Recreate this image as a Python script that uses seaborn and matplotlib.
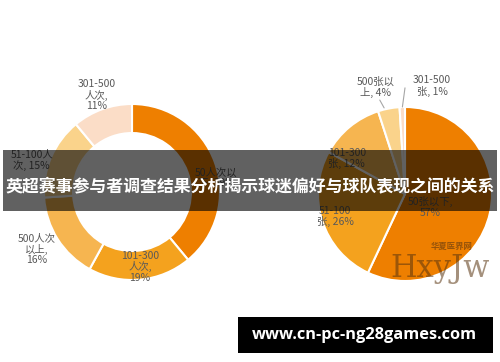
import matplotlib
matplotlib.use("Agg")
import matplotlib.pyplot as plt
import seaborn as sns
from matplotlib.patches import Rectangle

sns.set_style("white")
plt.rcParams['font.family'] = ['Noto Sans CJK SC', 'DejaVu Sans']

# ---- data ----
left_labels = ["50人次以\n下, 39%", "101-300\n人次,\n19%", "500人次\n以上,\n16%", "51-100人\n次, 15%", "301-500\n人次,\n11%"]
left_values = [39, 19, 16, 15, 11]
right_labels = ["50张以下,\n57%", "51-100\n张, 26%", "101-300\n张, 12%", "500张以\n上, 4%", "301-500\n张, 1%"]
right_values = [57, 26, 12, 4, 1]
banner_title = "英超赛事参与者调查结果分析揭示球迷偏好与球队表现之间的关系"
site_text = "www.cn-pc-ng28games.com"

palette = sns.color_palette(["#EE7F00", "#F4A21E", "#F6B550", "#FAD38B", "#FBDDC7"])

W, H = 500, 362
fig = plt.figure(figsize=(W / 100, H / 100), dpi=100)
fig.patch.set_facecolor("white")

SPAN = 1.6

def make_ax(cx, cy, r):
    half = r * SPAN
    ax = fig.add_axes([(cx - half) / W, (H - cy - half) / H, 2 * half / W, 2 * half / H])
    ax.set_xlim(-SPAN, SPAN)
    ax.set_ylim(-SPAN, SPAN)
    ax.axis("off")
    return ax

label_color = "#595959"
fs = 7.5

# left donut
axL = make_ax(132, 192, 88)
axL.pie(left_values, colors=palette, startangle=90, counterclock=False, radius=1,
        wedgeprops=dict(width=0.33, edgecolor="white", linewidth=1.5))
axL.set_xlim(-SPAN, SPAN); axL.set_ylim(-SPAN, SPAN)
left_pos = [(0.96, 0.16), (0.09, -0.85), (-1.08, -0.65), (-1.14, 0.36), (-0.40, 1.10)]
for lab, (x, y) in zip(left_labels, left_pos):
    axL.text(x, y, lab, ha="center", va="center", fontsize=fs, color=label_color, linespacing=1.05)

# right pie
axR = make_ax(405, 194, 87)
axR.pie(right_values, colors=palette, startangle=90, counterclock=False, radius=1,
        wedgeprops=dict(edgecolor="white", linewidth=1.5))
axR.set_xlim(-SPAN, SPAN); axR.set_ylim(-SPAN, SPAN)
right_pos = [(0.29, -0.15), (-0.80, -0.26), (-0.67, 0.41), (-0.34, 1.23), (0.31, 1.24)]
for lab, (x, y) in zip(right_labels, right_pos):
    axR.text(x, y, lab, ha="center", va="center", fontsize=fs, color=label_color, linespacing=1.05)
axR.plot([-0.29, -0.24], [1.08, 0.99], color="#A6A6A6", lw=0.8)
axR.plot([0.0, -0.03], [1.22, 1.0], color="#A6A6A6", lw=0.8)

# watermark
fig.text(440 / W, 1 - 268 / H, "HxyJw", fontsize=22, family="DejaVu Serif", color="#5a3510",
         alpha=0.55, ha="center", va="center")
fig.text(452 / W, 1 - 246 / H, "华夏医界网", fontsize=6, color="#5a3510", alpha=0.6,
         ha="center", va="center", weight="bold")

# banner overlay
fig.patches.append(Rectangle((3 / W, 1 - 211 / H), 494 / W, 61 / H, transform=fig.transFigure,
                             facecolor="black", alpha=0.62, edgecolor="none", zorder=5))
fig.text(250 / W, 1 - 186 / H, banner_title, fontsize=12.2, color="white", weight="bold",
         ha="center", va="center", zorder=6)

# bottom site box
fig.patches.append(Rectangle((238 / W, 1 - 353 / H), 255 / W, 36 / H, transform=fig.transFigure,
                             facecolor="black", edgecolor="none", zorder=5))
fig.text(364 / W, 1 - 335 / H, site_text, fontsize=11.8, color="white", weight="bold",
         family="Open Sans", ha="center", va="center", zorder=6)

fig.savefig("out.png", dpi=100)
